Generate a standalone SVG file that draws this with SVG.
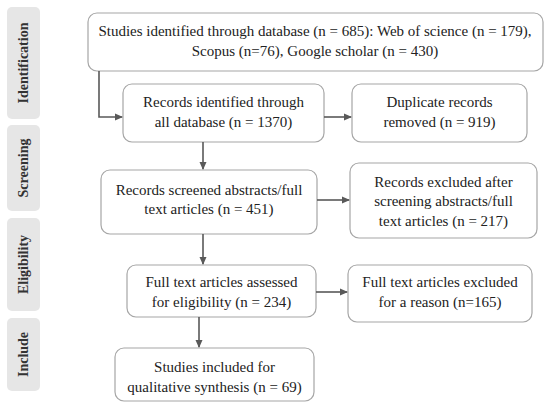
<svg xmlns="http://www.w3.org/2000/svg" width="550" height="410" viewBox="0 0 550 410">
<defs>
<marker id="ah" markerWidth="8" markerHeight="8" refX="7" refY="4" orient="auto" markerUnits="userSpaceOnUse">
<path d="M0,0.5 L8,4 L0,7.5 Z" fill="#595959"/>
</marker>
<style>
.box{fill:#fff;stroke:#a6a6a6;stroke-width:1.2}
.side{fill:#e6e6e6}
.t{font-family:"Liberation Serif","Times New Roman",serif;font-size:15px;fill:#222;text-anchor:middle}
.s{font-family:"Liberation Serif","Times New Roman",serif;font-size:14px;font-weight:bold;fill:#333;text-anchor:middle}
.c{fill:none;stroke:#595959;stroke-width:1.6}
</style>
</defs>
<rect width="550" height="410" fill="#fff"/>
<g id="side-identification"><rect class="side" x="7" y="7" width="33" height="112" rx="5"/><text class="s" transform="translate(28,63) rotate(-90)">Identification</text></g>
<g id="side-screening"><rect class="side" x="7" y="125" width="33" height="86" rx="5"/><text class="s" transform="translate(28,168) rotate(-90)">Screening</text></g>
<g id="side-eligibility"><rect class="side" x="7" y="218" width="33" height="93" rx="5"/><text class="s" transform="translate(28,264.5) rotate(-90)">Eligibility</text></g>
<g id="side-include"><rect class="side" x="7" y="318" width="33" height="73" rx="5"/><text class="s" transform="translate(28,354.5) rotate(-90)">Include</text></g>

<g id="n1"><rect class="box" x="88" y="13" width="455" height="58" rx="9"/>
<text class="t" x="315" y="36">Studies identified through database (n = 685): Web of science (n = 179),</text>
<text class="t" x="315" y="56">Scopus (n=76), Google scholar (n = 430)</text></g>
<g id="n2"><rect class="box" x="123" y="84" width="201" height="58" rx="9"/>
<text class="t" x="223.5" y="107">Records identified through</text>
<text class="t" x="223.5" y="127">all database (n = 1370)</text></g>
<g id="n2b"><rect class="box" x="352" y="84" width="175" height="58" rx="9"/>
<text class="t" x="439.5" y="107">Duplicate records</text>
<text class="t" x="439.5" y="127">removed (n = 919)</text></g>
<g id="n3"><rect class="box" x="101" y="170" width="216" height="64" rx="9"/>
<text class="t" x="209" y="195">Records screened abstracts/full</text>
<text class="t" x="209" y="214">text articles (n = 451)</text></g>
<g id="n3b"><rect class="box" x="350" y="163" width="187" height="75" rx="9"/>
<text class="t" x="443.5" y="187">Records excluded after</text>
<text class="t" x="443.5" y="206">screening abstracts/full</text>
<text class="t" x="443.5" y="226">text articles (n = 217)</text></g>
<g id="n4"><rect class="box" x="127" y="265" width="189" height="52" rx="9"/>
<text class="t" x="221.5" y="287">Full text articles assessed</text>
<text class="t" x="221.5" y="307">for eligibility (n = 234)</text></g>
<g id="n4b"><rect class="box" x="348" y="265" width="184" height="57" rx="9"/>
<text class="t" x="440" y="287">Full text articles excluded</text>
<text class="t" x="440" y="307">for a reason (n=165)</text></g>
<g id="n5"><rect class="box" x="115" y="348" width="199" height="53" rx="9"/>
<text class="t" x="214.5" y="372">Studies included for</text>
<text class="t" x="214.5" y="392">qualitative synthesis (n = 69)</text></g>

<g id="connectors">
<path class="c" d="M99,71 V117 H122" marker-end="url(#ah)"/>
<path class="c" d="M324,117 H351" marker-end="url(#ah)"/>
<path class="c" d="M203,142 V169" marker-end="url(#ah)"/>
<path class="c" d="M317,200 H349" marker-end="url(#ah)"/>
<path class="c" d="M203,234 V264" marker-end="url(#ah)"/>
<path class="c" d="M316,292 H347" marker-end="url(#ah)"/>
<path class="c" d="M199,317 V347" marker-end="url(#ah)"/>
</g>
</svg>
